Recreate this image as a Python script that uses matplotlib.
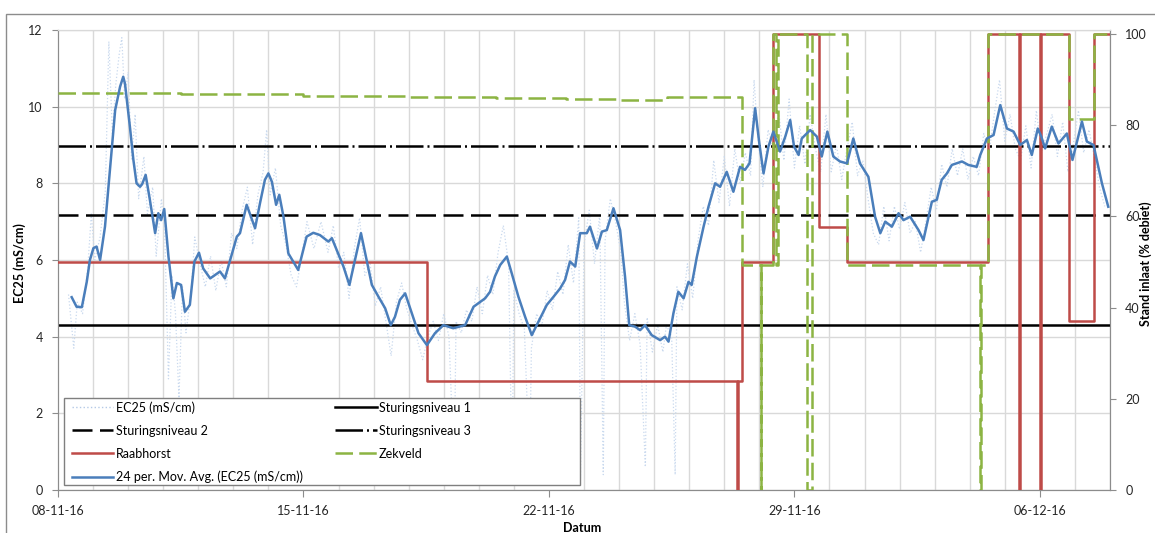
import numpy as np
import matplotlib
matplotlib.use('Agg')
import matplotlib.pyplot as plt
from matplotlib.lines import Line2D
from matplotlib.patches import Rectangle

plt.rcParams['font.family'] = ['Lato', 'DejaVu Sans']

# x values are days after 08-11-16
xtick_days = [0, 7, 14, 21, 28]
xtick_labels = ['08-11-16', '15-11-16', '22-11-16', '29-11-16', '06-12-16']

# 24 per. moving average EC25 (mS/cm)
ma_day = [0.39, 0.53, 0.68, 0.82, 0.91, 1.01, 1.10, 1.20, 1.34, 1.48, 1.63, 1.77, 1.86, 1.91,
          2.05, 2.15, 2.24, 2.34, 2.40, 2.50, 2.62, 2.77, 2.86, 2.94, 3.03, 3.15, 3.29, 3.39,
          3.51, 3.62, 3.76, 3.89, 4.02, 4.14, 4.34, 4.48, 4.62, 4.76, 4.91, 5.10, 5.19, 5.38,
          5.62, 5.76, 5.90, 6.00, 6.10, 6.22, 6.31, 6.43, 6.57, 6.85, 7.09, 7.28, 7.47, 7.71,
          7.81, 7.99, 8.14, 8.31, 8.47, 8.64, 8.80, 8.95, 9.14, 9.33, 9.49, 9.61, 9.75, 9.90,
          10.09, 10.28, 10.52, 10.75, 10.99, 11.27, 11.61, 11.85, 12.18, 12.32, 12.46, 12.61,
          12.80, 12.94, 13.13, 13.32, 13.51, 13.70, 13.94, 14.13, 14.32, 14.46, 14.60, 14.75,
          14.89, 15.08, 15.17, 15.37, 15.51, 15.65, 15.84, 16.03, 16.17, 16.29, 16.46, 16.60,
          16.74, 16.93, 17.17, 17.31, 17.41, 17.55, 17.69, 17.84, 17.98, 18.07, 18.22, 18.41,
          18.55, 18.74, 18.88, 19.07, 19.26, 19.45, 19.59, 19.72, 19.88, 20.00, 20.12, 20.26,
          20.40, 20.59, 20.74, 20.88, 20.99, 21.12, 21.21, 21.45, 21.64, 21.78, 21.94, 22.11,
          22.30, 22.50, 22.68, 22.87, 23.11, 23.30, 23.45, 23.59, 23.78, 23.97, 24.11, 24.30,
          24.54, 24.68, 24.92, 25.06, 25.20, 25.35, 25.49, 25.78, 25.96, 26.20, 26.30, 26.49,
          26.68, 26.87, 27.06, 27.25, 27.44, 27.63, 27.77, 27.94, 28.04, 28.15, 28.34, 28.53,
          28.77, 28.93, 29.20, 29.34, 29.53, 29.77, 29.95]
ma_val = [5.03, 4.78, 4.77, 5.43, 6.00, 6.31, 6.35, 6.00, 6.87, 8.35, 9.91, 10.52, 10.78, 10.60,
          9.48, 8.61, 8.00, 7.91, 7.98, 8.22, 7.57, 6.70, 7.22, 7.04, 7.33, 6.09, 5.00, 5.40,
          5.35, 4.65, 4.83, 5.96, 6.19, 5.78, 5.52, 5.61, 5.70, 5.52, 6.00, 6.61, 6.70, 7.44,
          6.83, 7.48, 8.09, 8.26, 8.04, 7.44, 7.70, 7.13, 6.17, 5.74, 6.61, 6.71, 6.65, 6.48,
          6.57, 6.17, 5.83, 5.35, 6.00, 6.70, 6.00, 5.35, 5.04, 4.74, 4.30, 4.52, 4.96, 5.13,
          4.61, 4.09, 3.78, 4.09, 4.30, 4.22, 4.30, 4.78, 5.00, 5.17, 5.57, 5.87,
          6.09, 5.65, 5.04, 4.52, 4.04, 4.39, 4.83, 5.04, 5.26, 5.48, 5.96, 5.83,
          6.70, 6.70, 6.87, 6.30, 6.74, 6.78, 7.35, 6.78, 5.57, 4.30, 4.26, 4.17,
          4.30, 4.04, 3.91, 4.00, 3.87, 4.61, 5.17, 5.00, 5.43, 5.35, 6.09, 6.87,
          7.39, 8.00, 7.91, 8.30, 7.78, 8.43, 8.35, 8.52, 9.96, 9.04, 8.26, 8.96,
          9.35, 8.83, 9.22, 9.65, 8.96, 8.74, 9.17, 9.39, 9.22, 8.70, 9.35, 8.70,
          8.57, 8.52, 9.17, 8.52, 8.17, 7.13, 6.70, 7.00, 6.87, 7.22, 7.04, 7.13,
          6.78, 6.52, 7.52, 7.57, 8.09, 8.26, 8.48, 8.57, 8.48, 8.43, 8.74, 9.17,
          9.26, 10.04, 9.43, 9.35, 9.00, 9.13, 8.74, 9.43, 9.22, 8.91, 9.48, 9.04,
          9.30, 8.61, 9.61, 9.09, 9.00, 8.00, 7.39]

# raw EC25 (mS/cm)
raw_day = [0.30, 0.45, 0.55, 0.70, 0.85, 0.95, 1.05, 1.20, 1.35, 1.45, 1.55, 1.65, 1.75, 1.82,
           1.90, 2.00, 2.10, 2.20, 2.30, 2.45, 2.55, 2.70, 2.80, 2.95, 3.05, 3.15, 3.25, 3.35,
           3.45, 3.55, 3.65, 3.80, 3.90, 4.05, 4.20, 4.35, 4.50, 4.65, 4.80, 4.95, 5.10, 5.25,
           5.40, 5.55, 5.70, 5.85, 5.95, 6.05, 6.20, 6.35, 6.50, 6.65, 6.80, 6.95, 7.10, 7.30,
           7.50, 7.70, 7.85, 8.00, 8.15, 8.30, 8.45, 8.60, 8.75, 8.90, 9.05, 9.20, 9.35, 9.50,
           9.65, 9.80, 9.95, 10.10, 10.25, 10.40, 10.55, 10.70, 10.85, 11.00, 11.15, 11.30,
           11.35, 11.50, 11.65, 11.80, 11.95, 12.10, 12.25, 12.40, 12.55, 12.70, 12.85, 12.95,
           13.00, 13.15, 13.30, 13.45, 13.50, 13.65, 13.80, 13.95, 14.10, 14.25, 14.40, 14.55,
           14.70, 14.85, 14.90, 15.00, 15.15, 15.30, 15.45, 15.55, 15.60, 15.75, 15.90, 16.05,
           16.15, 16.30, 16.45, 16.60, 16.75, 16.80, 16.95, 17.10, 17.25, 17.35, 17.50, 17.60,
           17.65, 17.80, 17.95, 18.10, 18.25, 18.40, 18.55, 18.70, 18.85, 19.00, 19.15, 19.30,
           19.45, 19.60, 19.75, 19.85, 19.95, 20.10, 20.25, 20.40, 20.55, 20.70, 20.85, 21.00,
           21.15, 21.30, 21.45, 21.60, 21.75, 21.90, 22.05, 22.20, 22.35, 22.50, 22.65, 22.80,
           22.95, 23.10, 23.25, 23.40, 23.55, 23.70, 23.85, 24.00, 24.15, 24.30, 24.45, 24.60,
           24.75, 24.90, 25.05, 25.20, 25.35, 25.50, 25.65, 25.80, 25.95, 26.10, 26.25, 26.40,
           26.55, 26.70, 26.85, 27.00, 27.15, 27.30, 27.45, 27.60, 27.75, 27.90, 28.05, 28.20,
           28.35, 28.50, 28.65, 28.80, 28.95, 29.10, 29.25, 29.40, 29.55, 29.70, 29.85]
raw_val = [5.1, 3.7, 4.9, 4.6, 5.8, 7.2, 6.0, 6.6, 7.8, 11.7, 9.3, 10.6, 11.4, 11.8,
           10.2, 10.9, 8.6, 9.8, 7.6, 8.7, 7.2, 7.9, 6.1, 7.6, 6.5, 2.9, 5.6, 4.6,
           2.4, 5.3, 4.1, 5.2, 6.6, 5.9, 5.3, 6.1, 5.2, 6.0, 5.3, 6.7, 6.3, 7.3,
           7.9, 6.4, 7.7, 8.3, 9.4, 7.7, 8.4, 6.9, 6.4, 5.6, 5.3, 6.1, 7.0, 6.3,
           7.0, 6.2, 6.9, 5.8, 6.2, 5.0, 6.3, 7.1, 5.6, 5.9, 4.8, 5.3, 4.4, 3.5,
           4.9, 5.4, 4.7, 4.3, 3.9, 3.4, 4.0, 4.4, 3.9, 4.6, 4.0, 0.4,
           4.4, 4.1, 4.7, 4.4, 5.3, 4.6, 5.6, 5.1, 6.2, 6.9, 5.9, 0.3,
           5.2, 4.6, 4.2, 0.5, 3.7, 4.6, 4.3, 5.2, 4.7, 5.7, 5.1, 6.4,
           5.4, 7.1, 0.3, 6.4, 7.3, 5.9, 7.2, 0.4, 6.5, 7.6, 7.0, 6.2,
           4.9, 3.9, 4.6, 3.8, 0.6, 4.5, 3.6, 4.3, 3.6, 4.3, 4.0, 0.4,
           5.3, 4.7, 5.9, 5.0, 6.5, 7.4, 6.9, 8.6, 7.5, 8.7, 7.4, 8.9,
           8.0, 8.8, 8.2, 10.7, 9.3, 7.9, 9.4, 8.9, 9.9, 8.6, 10.2, 8.4,
           9.5, 8.5, 9.8, 8.9, 8.3, 9.8, 8.3, 9.0, 8.1, 8.9, 9.6, 8.2,
           8.6, 7.6, 6.7, 6.4, 7.4, 6.5, 7.4, 6.8, 7.5, 6.7, 7.0, 6.2,
           7.0, 7.9, 7.3, 8.5, 7.9, 8.9, 8.2, 8.9, 8.1, 8.7, 8.2, 9.3,
           8.8, 9.8, 10.7, 9.1, 9.8, 8.9, 8.6, 9.5, 8.4, 9.9, 8.8, 9.3,
           9.8, 8.7, 9.6, 8.3, 9.0, 9.9, 8.8, 9.4, 8.7, 7.9, 7.4]

# control levels (mS/cm)
niveau_1 = 4.3
niveau_2 = 7.17
niveau_3 = 8.98

# inlet settings (% debiet), step series
raab_day = [0, 10.52, 19.37, 19.38, 19.50, 20.38, 21.69, 22.51, 26.52, 27.41, 27.42,
            28.01, 28.02, 28.84, 29.53, 30.0]
raab_val = [50, 24, 0, 24, 50, 100, 57.7, 50, 100, 0, 100, 0, 100, 37, 100, 100]

zek_day = [0, 3.5, 7.0, 10.0, 12.5, 14.5, 16.0, 17.36, 19.50, 20.04, 20.06, 20.40, 20.47,
           20.54, 21.35, 21.49, 22.49, 26.30, 26.32, 26.52, 28.84, 29.53, 30.0]
zek_val = [87.0, 86.8, 86.5, 86.2, 85.9, 85.7, 85.5, 86.3, 49.3, 0, 49.3, 100, 49.3,
           100, 0, 100, 49.3, 0, 49.3, 100, 81.3, 100, 100]

c_blue = '#4A7EBB'
c_raw = '#C9D9EE'
c_red = '#BE4B48'
c_green = '#8CB443'
c_grid = '#D9D9D9'
c_axis = '#8C8C8C'
r_max = 100.9

fig = plt.figure(figsize=(11.55, 5.33), dpi=100)
ax = fig.add_axes([58 / 1155, 43 / 533, 1052 / 1155, 460 / 533])
ax2 = ax.twinx()

ax.set_xlim(0, 30)
ax.set_ylim(0, 12)
ax2.set_ylim(0, r_max)

ax.set_xticks(xtick_days)
ax.set_xticklabels(xtick_labels)
ax.set_xticks(np.arange(0, 31), minor=True)
ax.set_yticks(np.arange(0, 13, 2))
ax2.set_yticks(np.arange(0, 101, 20))
ax.grid(axis='y', which='major', color=c_grid, lw=1)
ax.grid(axis='x', which='minor', color=c_grid, lw=1)
ax.set_axisbelow(True)

ax.plot(raw_day, raw_val, color=c_raw, lw=0.9, ls=':', zorder=2)
ax.axhline(niveau_1, color='black', lw=1.8, zorder=3)
ax.axhline(niveau_2, color='black', lw=1.8, dashes=(8, 3), zorder=3)
ax.axhline(niveau_3, color='black', lw=1.8, dashes=(11, 1.6, 0.8, 1.6), zorder=3)

ax2.plot(raab_day, raab_val, color=c_red, lw=1.8, drawstyle='steps-post', zorder=3)
ax2.plot(zek_day, zek_val, color=c_green, lw=1.8, dashes=(7, 2.5), drawstyle='steps-post', zorder=4)
ax2.plot(ma_day, ma_val, color=c_blue, lw=1.8, transform=ax.transData, zorder=5)

for a in (ax, ax2):
    for s in a.spines.values():
        s.set_color(c_axis)
    a.spines['top'].set_color(c_grid)
    a.tick_params(axis='both', which='major', color=c_axis, length=4, labelsize=9,
                  labelcolor='#262626')
ax.tick_params(axis='y', pad=7)
ax2.tick_params(axis='y', pad=7)
ax.tick_params(axis='x', which='major', length=5, pad=6)
ax.tick_params(axis='x', which='minor', length=0)

# legend box drawn separately so it can be wider than its entries
ax2.add_patch(Rectangle((6 / 1052, 5 / 460), 516 / 1052, 87 / 460, transform=ax2.transAxes,
                        facecolor='white', edgecolor='#7F7F7F', lw=1, zorder=9))

h_raw = Line2D([], [], color='#B4C9E6', lw=1, ls=':')
h_ma = Line2D([], [], color=c_blue, lw=1.8)
h_raab = Line2D([], [], color=c_red, lw=1.8)
h_zek = Line2D([], [], color=c_green, lw=1.8, dashes=(7, 2.5))
h_s1 = Line2D([], [], color='black', lw=1.8)
h_s2 = Line2D([], [], color='black', lw=1.8, dashes=(8, 3))
h_s3 = Line2D([], [], color='black', lw=1.8, dashes=(11, 1.6, 0.8, 1.6))
handles = [h_raw, h_s2, h_raab, h_ma, h_s1, h_s3, h_zek]
labels = ['EC25 (mS/cm)', 'Sturingsniveau 2', 'Raabhorst', '24 per. Mov. Avg. (EC25 (mS/cm))',
          'Sturingsniveau 1', 'Sturingsniveau 3', 'Zekveld']
leg = ax2.legend(handles, labels, ncol=2, loc='upper left', bbox_to_anchor=(14 / 1052, 89 / 460),
                 fontsize=9, frameon=False, handlelength=3.3, handletextpad=0.2,
                 labelspacing=0.88, columnspacing=2.6, borderpad=0, borderaxespad=0)
leg.set_zorder(10)

fig.text(20 / 1155, 0.5 + 3 / 533, 'EC25 (mS/cm)', rotation=90, ha='center', va='center',
         fontsize=9, fontweight='bold')
fig.text(1146 / 1155, 0.5 + 3 / 533, 'Stand inlaat (% debiet)', rotation=90, ha='center',
         va='center', fontsize=9, fontweight='bold')
fig.text(582 / 1155, 5 / 533, 'Datum', ha='center', va='center', fontsize=9, fontweight='bold')

fig.add_artist(Rectangle((6 / 1155, -0.01), 1.0, (533 - 14) / 533 + 0.01,
                         transform=fig.transFigure, fill=False, edgecolor='#8C8C8C', lw=1))

fig.savefig('out.png', dpi=100)
